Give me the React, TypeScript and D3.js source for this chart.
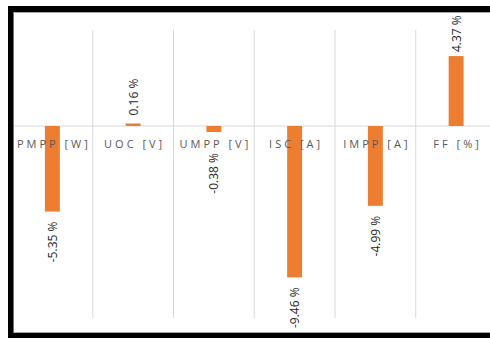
import React from "react";
import * as d3 from "d3";

const categories = ["PMPP [W]", "UOC [V]", "UMPP [V]", "ISC [A]", "IMPP [A]", "FF [%]"];
const values = [-5.35, 0.16, -0.38, -9.46, -4.99, 4.37];
const valueLabels = ["-5.35 %", "0.16 %", "-0.38 %", "-9.46 %", "-4.99 %", "4.37 %"];

const W = 490;
const H = 338;

export default function App() {
  const x = d3.scaleBand<string>().domain(categories).range([12, 496.5]).padding(0);
  const y = d3.scaleLinear().domain([-12, 6]).range([318, 30]);
  const bw = x.bandwidth() * 0.185;
  const zero = y(0);
  const labelFont = "'Open Sans', 'DejaVu Sans', sans-serif";
  const textLen = 39;

  return (
    <svg
      width={W}
      height={H}
      style={{ position: "absolute", left: 0, top: 0, background: "#fff" }}
      fontFamily={labelFont}
    >
      <rect x={0} y={0} width={W} height={H} fill="#fff" />
      {/* vertical grid lines between categories */}
      {categories.slice(1).map((c) => (
        <line
          key={"g" + c}
          x1={x(c)!}
          x2={x(c)!}
          y1={y(6)}
          y2={y(-12)}
          stroke="#d9d9d9"
          strokeWidth={1}
        />
      ))}
      {/* zero axis line */}
      <line x1={13} x2={W} y1={zero} y2={zero} stroke="#d9d9d9" strokeWidth={1} />
      {/* bars */}
      {categories.map((c, i) => {
        const v = values[i];
        const cx = x(c)! + x.bandwidth() / 2;
        const y0 = Math.min(y(v), zero);
        const h = Math.abs(y(v) - zero);
        return (
          <rect key={"b" + c} x={cx - bw / 2} y={y0} width={bw} height={h} fill="#ED7D31" />
        );
      })}
      {/* category labels */}
      {categories.map((c) => (
        <text
          key={"c" + c}
          x={x(c)! + x.bandwidth() / 2 + 1.5}
          y={zero + 21.5}
          textAnchor="middle"
          fontSize={11}
          letterSpacing={3}
          fill="#595959"
        >
          {c}
        </text>
      ))}
      {/* value labels */}
      {categories.map((c, i) => {
        const v = values[i];
        const cx = x(c)! + x.bandwidth() / 2;
        let ay: number;
        let anchor: "start" | "end";
        if (v < 0) {
          ay = Math.max(y(v) + 10, zero + 27);
          anchor = "end";
        } else {
          ay = Math.max(y(v) - 8, 13 + textLen);
          anchor = "start";
        }
        return (
          <text
            key={"l" + c}
            transform={`translate(${cx},${ay}) rotate(-90)`}
            textAnchor={anchor}
            dominantBaseline="central"
            fontSize={12}
            fill="#262626"
          >
            {valueLabels[i]}
          </text>
        );
      })}
      {/* frame */}
      <line x1={14} x2={W} y1={12.5} y2={12.5} stroke="#a6a6a6" strokeWidth={1} />
      <line x1={13.5} x2={13.5} y1={12} y2={333} stroke="#a6a6a6" strokeWidth={1} />
      <line x1={14} x2={W} y1={332.5} y2={332.5} stroke="#a6a6a6" strokeWidth={1} />
      <rect x={8} y={6} width={W - 8} height={6} fill="#000" />
      <rect x={8} y={6} width={5.3} height={H - 6} fill="#000" />
      <rect x={8} y={333} width={W - 8} height={5} fill="#000" />
    </svg>
  );
}
